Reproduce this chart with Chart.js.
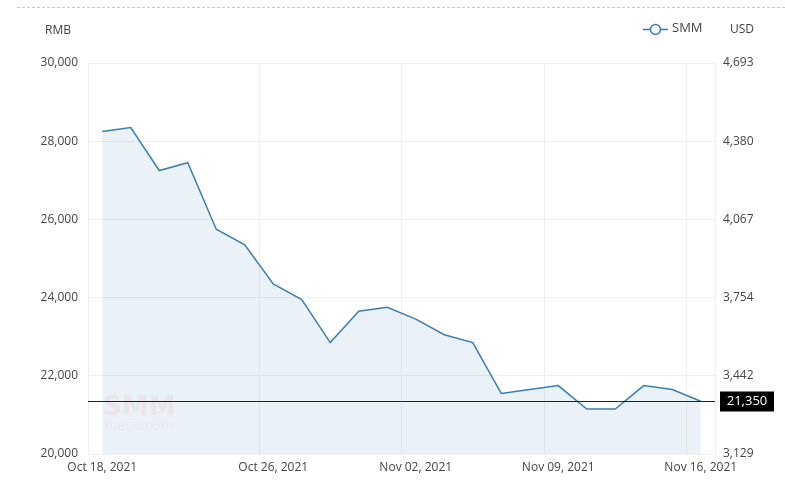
<!DOCTYPE html>
<html>
<head>
<meta charset="utf-8">
<script src="https://cdn.jsdelivr.net/npm/chart.js@4"></script>
<style>
    body { margin: 0; background: #fff; }
    #wrap { position: relative; width: 785px; height: 501px; }
</style>
</head>
<body>
<div id="wrap"><canvas id="priceChart"></canvas></div>
<script>
// Dados do gráfico
const dates = [
    'Oct 18, 2021', 'Oct 19, 2021', 'Oct 20, 2021', 'Oct 21, 2021', 'Oct 22, 2021',
    'Oct 25, 2021', 'Oct 26, 2021', 'Oct 27, 2021', 'Oct 28, 2021', 'Oct 29, 2021',
    'Nov 01, 2021', 'Nov 02, 2021', 'Nov 03, 2021', 'Nov 04, 2021', 'Nov 05, 2021',
    'Nov 08, 2021', 'Nov 09, 2021', 'Nov 10, 2021', 'Nov 11, 2021', 'Nov 12, 2021',
    'Nov 15, 2021', 'Nov 16, 2021'
];
const rmbPrices = [
    28250, 28350, 27250, 27450, 25750,
    25350, 24350, 23950, 22850, 23650,
    23750, 23450, 23050, 22850, 21550,
    21650, 21750, 21150, 21150, 21750,
    21650, 21350
];
const labeledDates = ['Oct 18, 2021', 'Oct 26, 2021', 'Nov 02, 2021', 'Nov 09, 2021', 'Nov 16, 2021'];
const rmbTicks = [20000, 22000, 24000, 26000, 28000, 30000];
const usdTicks = [3129, 3442, 3754, 4067, 4380, 4693];
const seriesName = 'SMM';

const lineColor = '#3b7fb2';
const gridColor = '#efefef';
const textColor = '#444';
const fontFamily = '"Open Sans", sans-serif';

const fmt = v => Number(v).toLocaleString('en-US');

// Decorações: linha tracejada, títulos dos eixos, legenda, marca d'água, linha do último preço
const decorations = {
    id: 'decorations',
    beforeDraw(chart) {
        const ctx = chart.ctx;
        ctx.save();
        ctx.strokeStyle = '#c8c8c8';
        ctx.lineWidth = 1;
        ctx.setLineDash([3, 2]);
        ctx.beginPath();
        ctx.moveTo(17, 7.5);
        ctx.lineTo(chart.width, 7.5);
        ctx.stroke();
        ctx.restore();
    },
    beforeDatasetsDraw(chart) {
        const ctx = chart.ctx;
        ctx.save();
        ctx.textAlign = 'center';
        ctx.textBaseline = 'middle';
        ctx.fillStyle = 'rgba(235, 120, 120, 0.10)';
        ctx.font = 'bold 27px "DejaVu Sans", sans-serif';
        ctx.fillText('SMM', 139, 408);
        ctx.fillStyle = 'rgba(235, 120, 120, 0.08)';
        ctx.font = '14px ' + fontFamily;
        ctx.fillText('metal.com', 139, 426);
        ctx.restore();
    },
    afterDraw(chart) {
        const ctx = chart.ctx;
        const area = chart.chartArea;
        const y = Math.round(chart.scales.y.getPixelForValue(rmbPrices[rmbPrices.length - 1])) + 0.5;
        ctx.save();

        // linha do último preço
        ctx.strokeStyle = '#222';
        ctx.lineWidth = 1;
        ctx.beginPath();
        ctx.moveTo(area.left, y);
        ctx.lineTo(area.right, y);
        ctx.stroke();

        // etiqueta do último preço
        ctx.fillStyle = '#000';
        ctx.fillRect(area.right + 5, y - 10, 54, 20);
        ctx.fillStyle = '#fff';
        ctx.font = '13px ' + fontFamily;
        ctx.textAlign = 'center';
        ctx.textBaseline = 'middle';
        ctx.fillText(fmt(rmbPrices[rmbPrices.length - 1]), area.right + 32, y);

        // títulos dos eixos
        ctx.fillStyle = textColor;
        ctx.font = '12px ' + fontFamily;
        ctx.fillText('RMB', 58, 31);
        ctx.fillText('USD', 742, 30);

        // legenda
        ctx.strokeStyle = lineColor;
        ctx.lineWidth = 1.5;
        ctx.beginPath();
        ctx.moveTo(643, 29.5);
        ctx.lineTo(668, 29.5);
        ctx.stroke();
        ctx.fillStyle = '#fff';
        ctx.beginPath();
        ctx.arc(655.5, 29.5, 5, 0, Math.PI * 2);
        ctx.fill();
        ctx.stroke();
        ctx.fillStyle = textColor;
        ctx.textAlign = 'left';
        ctx.font = '13px ' + fontFamily;
        ctx.fillText(seriesName, 672, 28);

        ctx.restore();
    }
};

new Chart(document.getElementById('priceChart'), {
    type: 'line',
    data: {
        labels: dates,
        datasets: [{
            label: seriesName,
            data: rmbPrices,
            borderColor: lineColor,
            borderWidth: 1.5,
            backgroundColor: 'rgba(59, 127, 178, 0.1)',
            fill: 'start',
            pointRadius: 0,
            tension: 0,
            yAxisID: 'y'
        }]
    },
    options: {
        responsive: true,
        maintainAspectRatio: false,
        animation: false,
        layout: { padding: { top: 63, left: 0, right: 0, bottom: 0 } },
        plugins: {
            legend: { display: false },
            tooltip: { enabled: false }
        },
        scales: {
            x: {
                type: 'category',
                offset: true,
                afterFit: s => { s.height = 47; },
                grid: {
                    offset: true,
                    drawTicks: false,
                    color: c => (c.type !== 'tick' || labeledDates.includes(dates[c.index])) ? gridColor : 'rgba(0,0,0,0)'
                },
                border: { display: false },
                ticks: {
                    autoSkip: false,
                    maxRotation: 0,
                    minRotation: 0,
                    padding: 6,
                    color: textColor,
                    font: { size: 12, family: fontFamily },
                    callback: function (v) {
                        const lbl = this.getLabelForValue(v);
                        return labeledDates.includes(lbl) ? lbl : '';
                    }
                }
            },
            y: {
                position: 'left',
                min: rmbTicks[0],
                max: rmbTicks[rmbTicks.length - 1],
                afterFit: s => { s.width = 88; },
                afterBuildTicks: s => { s.ticks = rmbTicks.map(v => ({ value: v })); },
                grid: { color: gridColor, drawTicks: false },
                border: { display: false },
                ticks: {
                    padding: 10,
                    color: textColor,
                    font: { size: 12, family: fontFamily },
                    callback: v => fmt(v)
                }
            },
            y2: {
                position: 'right',
                min: rmbTicks[0],
                max: rmbTicks[rmbTicks.length - 1],
                afterFit: s => { s.width = 70; },
                afterBuildTicks: s => { s.ticks = rmbTicks.map(v => ({ value: v })); },
                grid: { display: false, drawTicks: false },
                border: { display: false },
                ticks: {
                    padding: 8,
                    color: textColor,
                    font: { size: 12, family: fontFamily },
                    callback: (v, i) => fmt(usdTicks[i])
                }
            }
        }
    },
    plugins: [decorations]
});
</script>
</body>
</html>
